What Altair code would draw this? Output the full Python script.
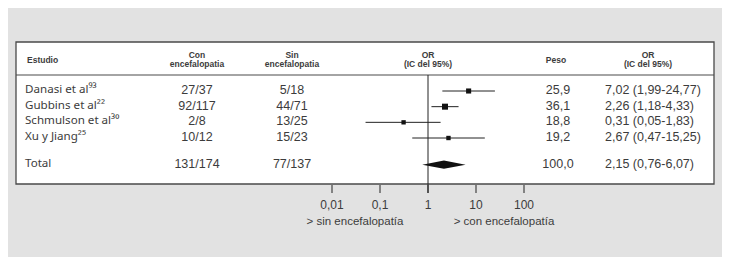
import altair as alt
import pandas as pd

# ---------------- data ----------------
studies = ["Danasi et al⁹³", "Gubbins et al²²", "Schmulson et al³⁰", "Xu y Jiang²⁵", "Total"]
con_events = [27, 92, 2, 10, 131]
con_total = [37, 117, 8, 12, 174]
sin_events = [5, 44, 13, 15, 77]
sin_total = [18, 71, 25, 23, 137]
weights = [25.9, 36.1, 18.8, 19.2, 100.0]
or_est = [7.02, 2.26, 0.31, 2.67, 2.15]
ci_lo = [1.99, 1.18, 0.05, 0.47, 0.76]
ci_hi = [24.77, 4.33, 1.83, 15.25, 6.07]
row_pos = [1, 2, 3, 4, 5.7]

tick_values = [0.01, 0.1, 1, 10, 100]
tick_labels = ["0,01", "0,1", "1", "10", "100"]

# ---------------- tables ----------------
def fmt(v, d):
    return f"{v:.{d}f}".replace(".", ",")

df = pd.DataFrame({
    "name": studies,
    "con": [f"{a}/{b}" for a, b in zip(con_events, con_total)],
    "sin": [f"{a}/{b}" for a, b in zip(sin_events, sin_total)],
    "peso": [fmt(w, 1) for w in weights],
    "w": weights,
    "ci": [f"{fmt(o, 2)} ({fmt(l, 2)}-{fmt(h, 2)})" for o, l, h in zip(or_est, ci_lo, ci_hi)],
    "est": or_est, "lo": ci_lo, "hi": ci_hi, "row": row_pos,
})
studies_df = df.iloc[:4]
tot = df.iloc[4]
half = 0.26
diamond = pd.DataFrame({
    "x": [tot["lo"], tot["est"], tot["hi"]],
    "y": [tot["row"], tot["row"] - half, tot["row"]],
    "y2": [tot["row"], tot["row"] + half, tot["row"]],
})
ticks_df = pd.DataFrame({"t": tick_values, "lab": tick_labels})
one = pd.DataFrame({"a": [0]})

# ---------------- style ----------------
FONT = "Liberation Sans"
TXT = "#3c3c3c"
LINE = "#222222"
xscale = alt.Scale(type="log", domain=[0.01, 100], range=[324, 516])
yscale = alt.Scale(domain=[1, 4], range=[83, 130], zero=False, nice=False)
Y = alt.Y("row:Q", scale=yscale, axis=None)

box = alt.Chart(one).mark_rect(fill="white", stroke="#4a4a4a", strokeWidth=1.3).encode(
    x=alt.value(8), x2=alt.value(706), y=alt.value(34), y2=alt.value(176))
hline = alt.Chart(one).mark_rule(color="#4a4a4a", strokeWidth=1.2).encode(
    x=alt.value(8), x2=alt.value(706), y=alt.value(67))

def htext(txt, x, y, align="center"):
    return alt.Chart(one).mark_text(font=FONT, fontSize=8.5, fontWeight="bold", color=TXT,
                                    align=align, baseline="middle").encode(
        x=alt.value(x), y=alt.value(y), text=alt.value(txt))

headers = [
    htext("Estudio", 19, 52, "left"),
    htext("Con", 189, 47), htext("encefalopatia", 189, 56),
    htext("Sin", 284, 47), htext("encefalopatia", 284, 56),
    htext("OR", 420, 47), htext("(IC del 95%)", 420, 56),
    htext("Peso", 548, 52),
    htext("OR", 640, 47), htext("(IC del 95%)", 640, 56),
]

def coltext(field, x, align, font=FONT, size=12.5):
    return alt.Chart(df).mark_text(font=font, fontSize=size, color=TXT, align=align,
                                   baseline="middle", dy=-1).encode(
        x=alt.value(x), y=Y, text=f"{field}:N")

cols = [coltext("name", 17, "left", font="Noto Sans", size=11.6), coltext("con", 189, "center"),
        coltext("sin", 284, "center"), coltext("peso", 550, "center"),
        coltext("ci", 597, "left")]

vline = alt.Chart(one).mark_rule(color=LINE, strokeWidth=1).encode(
    x=alt.X("v:Q", scale=xscale, axis=None), y=alt.value(67), y2=alt.value(185)
).transform_calculate(v="1")

tick_rules = alt.Chart(ticks_df).mark_rule(color=LINE, strokeWidth=1).encode(
    x=alt.X("t:Q", scale=xscale, axis=None), y=alt.value(177), y2=alt.value(185))
tick_text = alt.Chart(ticks_df).mark_text(font=FONT, fontSize=12, color=TXT,
                                          baseline="middle").encode(
    x=alt.X("t:Q", scale=xscale, axis=None), y=alt.value(197), text="lab:N")

ci_rules = alt.Chart(studies_df).mark_rule(color=LINE, strokeWidth=1).encode(
    x=alt.X("lo:Q", scale=xscale, axis=None), x2="hi:Q", y=Y)
squares = alt.Chart(studies_df).mark_square(color="#111111", opacity=1).encode(
    x=alt.X("est:Q", scale=xscale, axis=None), y=Y,
    size=alt.Size("w:Q", scale=alt.Scale(domain=[0, 40], range=[0, 40]), legend=None))
dia = alt.Chart(diamond).mark_area(color="#111111", orient="vertical").encode(
    x=alt.X("x:Q", scale=xscale, axis=None),
    y=alt.Y("y:Q", scale=yscale, axis=None), y2="y2:Q")

def btext(txt, x):
    return alt.Chart(one).mark_text(font=FONT, fontSize=11.5, color=TXT, baseline="middle").encode(
        x=alt.value(x), y=alt.value(214), text=alt.value(txt))

chart = alt.layer(
    box, hline, *headers, *cols, vline, tick_rules, tick_text, ci_rules, squares, dia,
    btext("> sin encefalopatía", 347), btext("> con encefalopatía", 496),
).properties(
    width=714, height=249, background="#e2e2e2", padding=0,
    autosize=alt.AutoSizeParams(type="none"),
).configure_view(stroke=None)

chart.save("out.html", embed_options={"renderer": "svg", "actions": False})
